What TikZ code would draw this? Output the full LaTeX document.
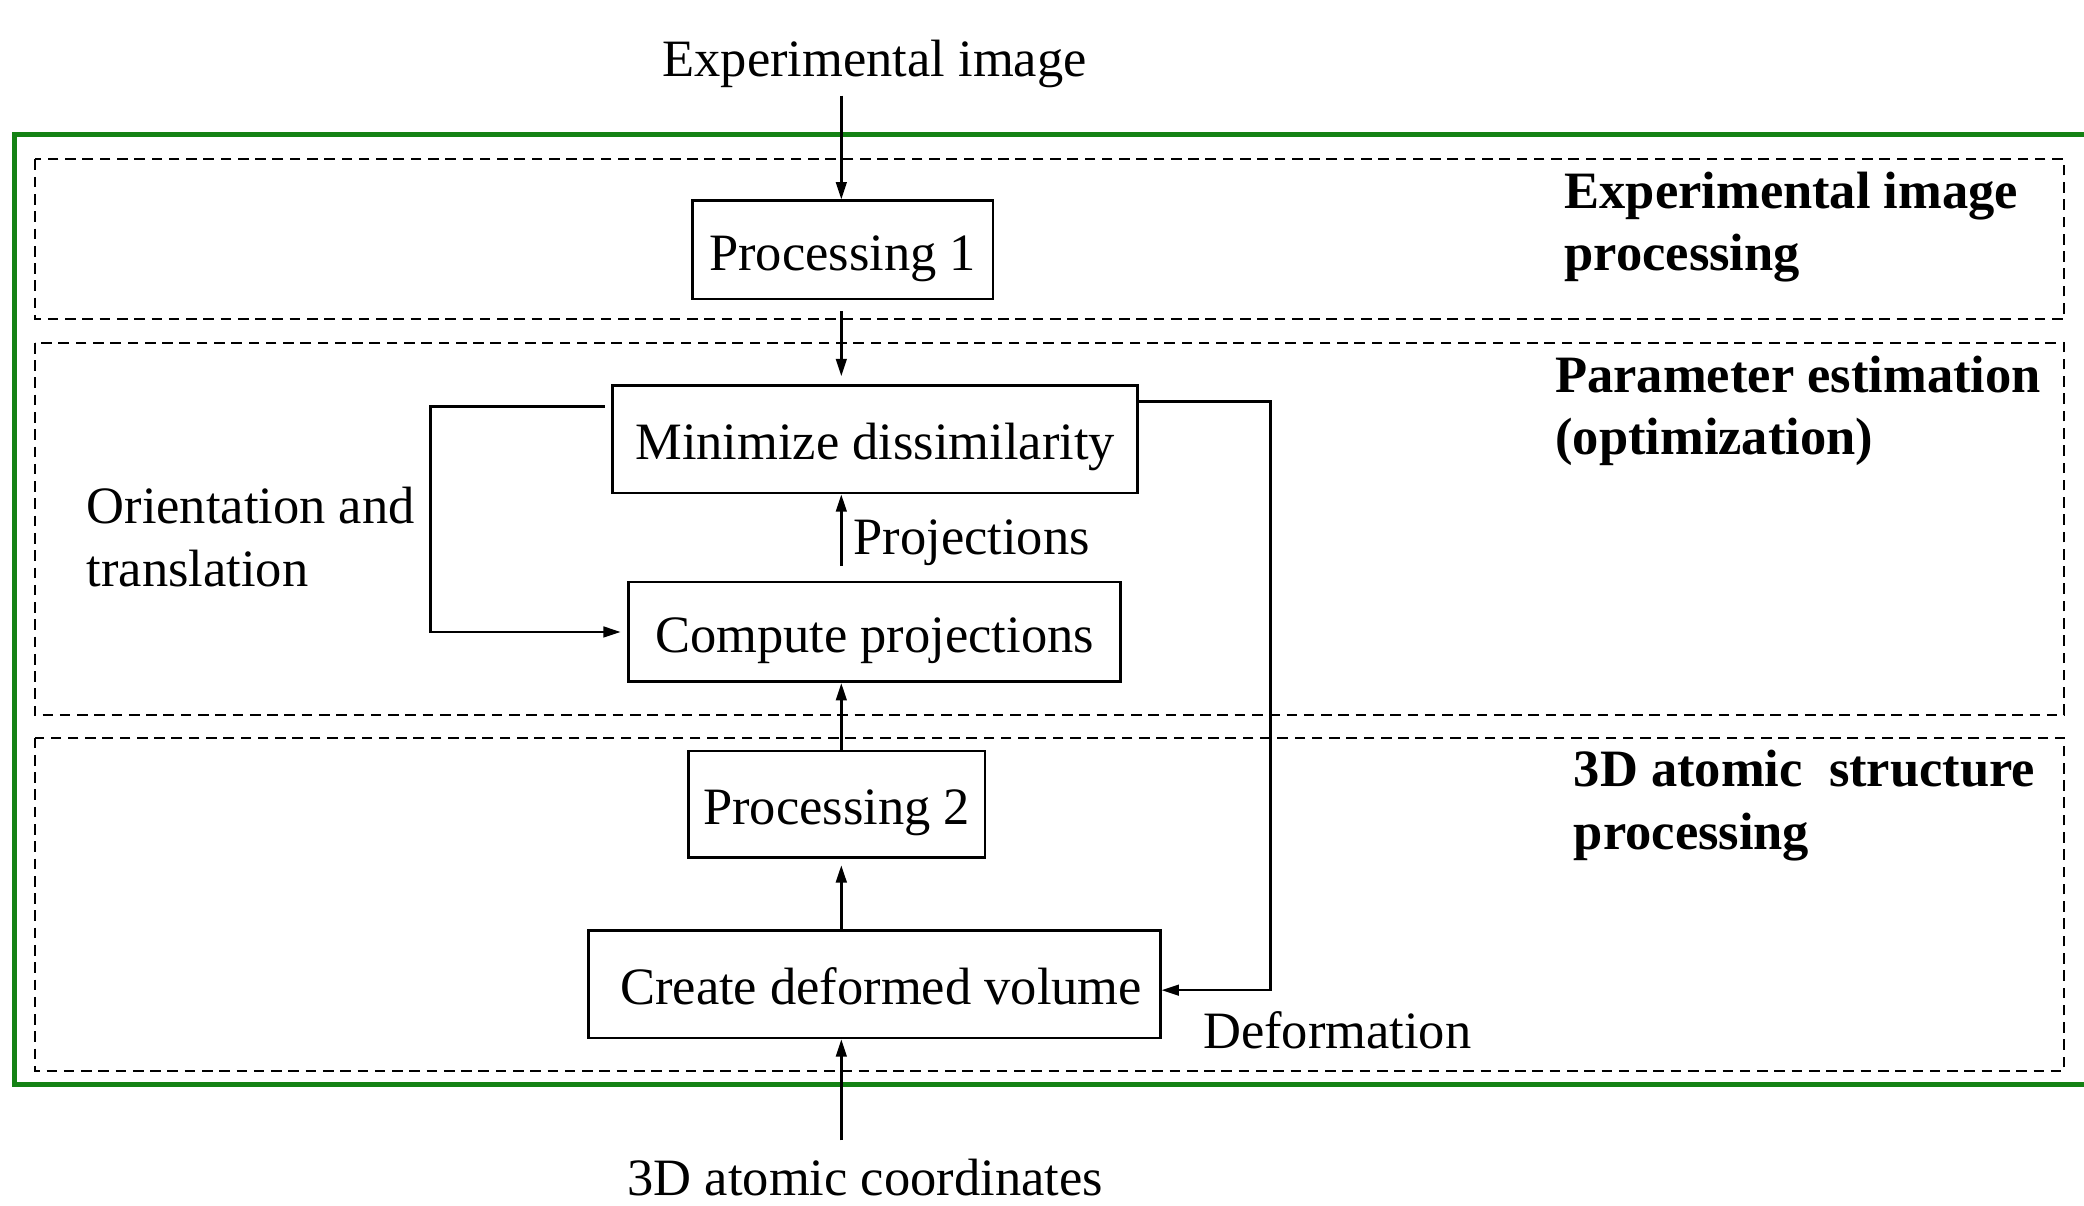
\documentclass[tikz,border=0pt]{standalone}
\usepackage{fontspec}
\setmainfont{Liberation Serif}
\usetikzlibrary{arrows.meta,calc}
\definecolor{framegreen}{RGB}{20,130,20}
\begin{document}
\begin{tikzpicture}[x=1pt,y=1pt,
  font=\fontsize{39.5}{47}\selectfont,
  procbox/.style={draw,line width=2pt,inner sep=0pt,text height=31pt,text depth=0pt},
  region/.style={draw,line width=1.5pt,dash pattern=on 8pt off 5pt},
  conn/.style={line width=1.9pt},
  arr/.style={conn,-{Triangle[length=13pt,width=8pt]}},
  lab/.style={inner sep=0pt,align=left},
  blab/.style={inner sep=0pt,align=left,font=\fontsize{39.5}{47}\selectfont\bfseries}]
\useasboundingbox (0,0) rectangle (1568,-907);
\clip (0,0) rectangle (1568,-907);
% green frame
\draw[framegreen,line width=3.5pt] (11,-101) rectangle (1600,-816);
% regions
\draw[region] (26,-120) rectangle (1553,-240);
\draw[region] (26,-258) rectangle (1553,-538);
\draw[region] (26,-555) rectangle (1553,-806);
% column coordinate
\coordinate (cx) at (633,0);
% texts in/out
\node[lab] (expimg) at (658,-48) {Experimental image};
\coordinate (expin) at (633,-72);
\node[lab] (atom) at (651,-886) {3D atomic coordinates};
\coordinate (atomout) at (633,-858);
% boxes
\node[procbox,minimum width=226pt,minimum height=74pt] (P1) at (634,-188) {Processing 1};
\node[procbox,minimum width=395pt,minimum height=81pt] (Min) at (658.5,-330.5) {Minimize dissimilarity};
\node[procbox,minimum width=370pt,minimum height=75pt] (Comp) at (658,-475.5) {Compute projections};
\node[procbox,minimum width=223pt,minimum height=80pt] (P2) at (629.5,-605) {Processing 2};
\node[procbox,minimum width=430pt,minimum height=81pt] (Create) at (658,-740.5) {\hspace*{10pt}Create deformed volume};
% labels
\node[lab,anchor=west] (projlab) at (642,-408) {Projections};
\node[lab,anchor=west] (deflab) at (905,-775) {Deformation};
\node[lab,anchor=west] (orilab) at (65,-404) {Orientation and\\translation};
\node[blab,anchor=west] (r1) at (1177,-171) {Experimental image\\processing};
\node[blab,anchor=west] (r2) at (1170,-309) {Parameter estimation\\(optimization)};
\node[blab,anchor=west] (r3) at (1184,-606) {3D atomic\ \ structure\\processing};
% connectors
\draw[arr] (expin) -- (P1.north -| cx);
\draw[arr,shorten <=8pt,shorten >=6pt] (P1.south -| cx) -- (Min.north -| cx);
\draw[arr,shorten <=11pt] (Comp.north -| cx) -- (Min.south -| cx);
\draw[arr] (P2.north -| cx) -- (Comp.south -| cx);
\draw[arr,shorten >=5pt] (Create.north -| cx) -- (P2.south -| cx);
\draw[arr] (atomout) -- (Create.south -| cx);
\coordinate (defx) at (956,0);
\draw[arr] ([yshift=-13pt]Min.north east) -- ([yshift=-13pt]Min.north east -| defx) |- ([yshift=-4.5pt]Create.east);
\coordinate (orix) at (329,0);
\draw[arr,shorten >=5pt] ([xshift=-5pt,yshift=-17pt]Min.north west) -- ([xshift=-5pt,yshift=-17pt]Min.north west -| orix) |- (Comp.west);
\end{tikzpicture}
\end{document}
